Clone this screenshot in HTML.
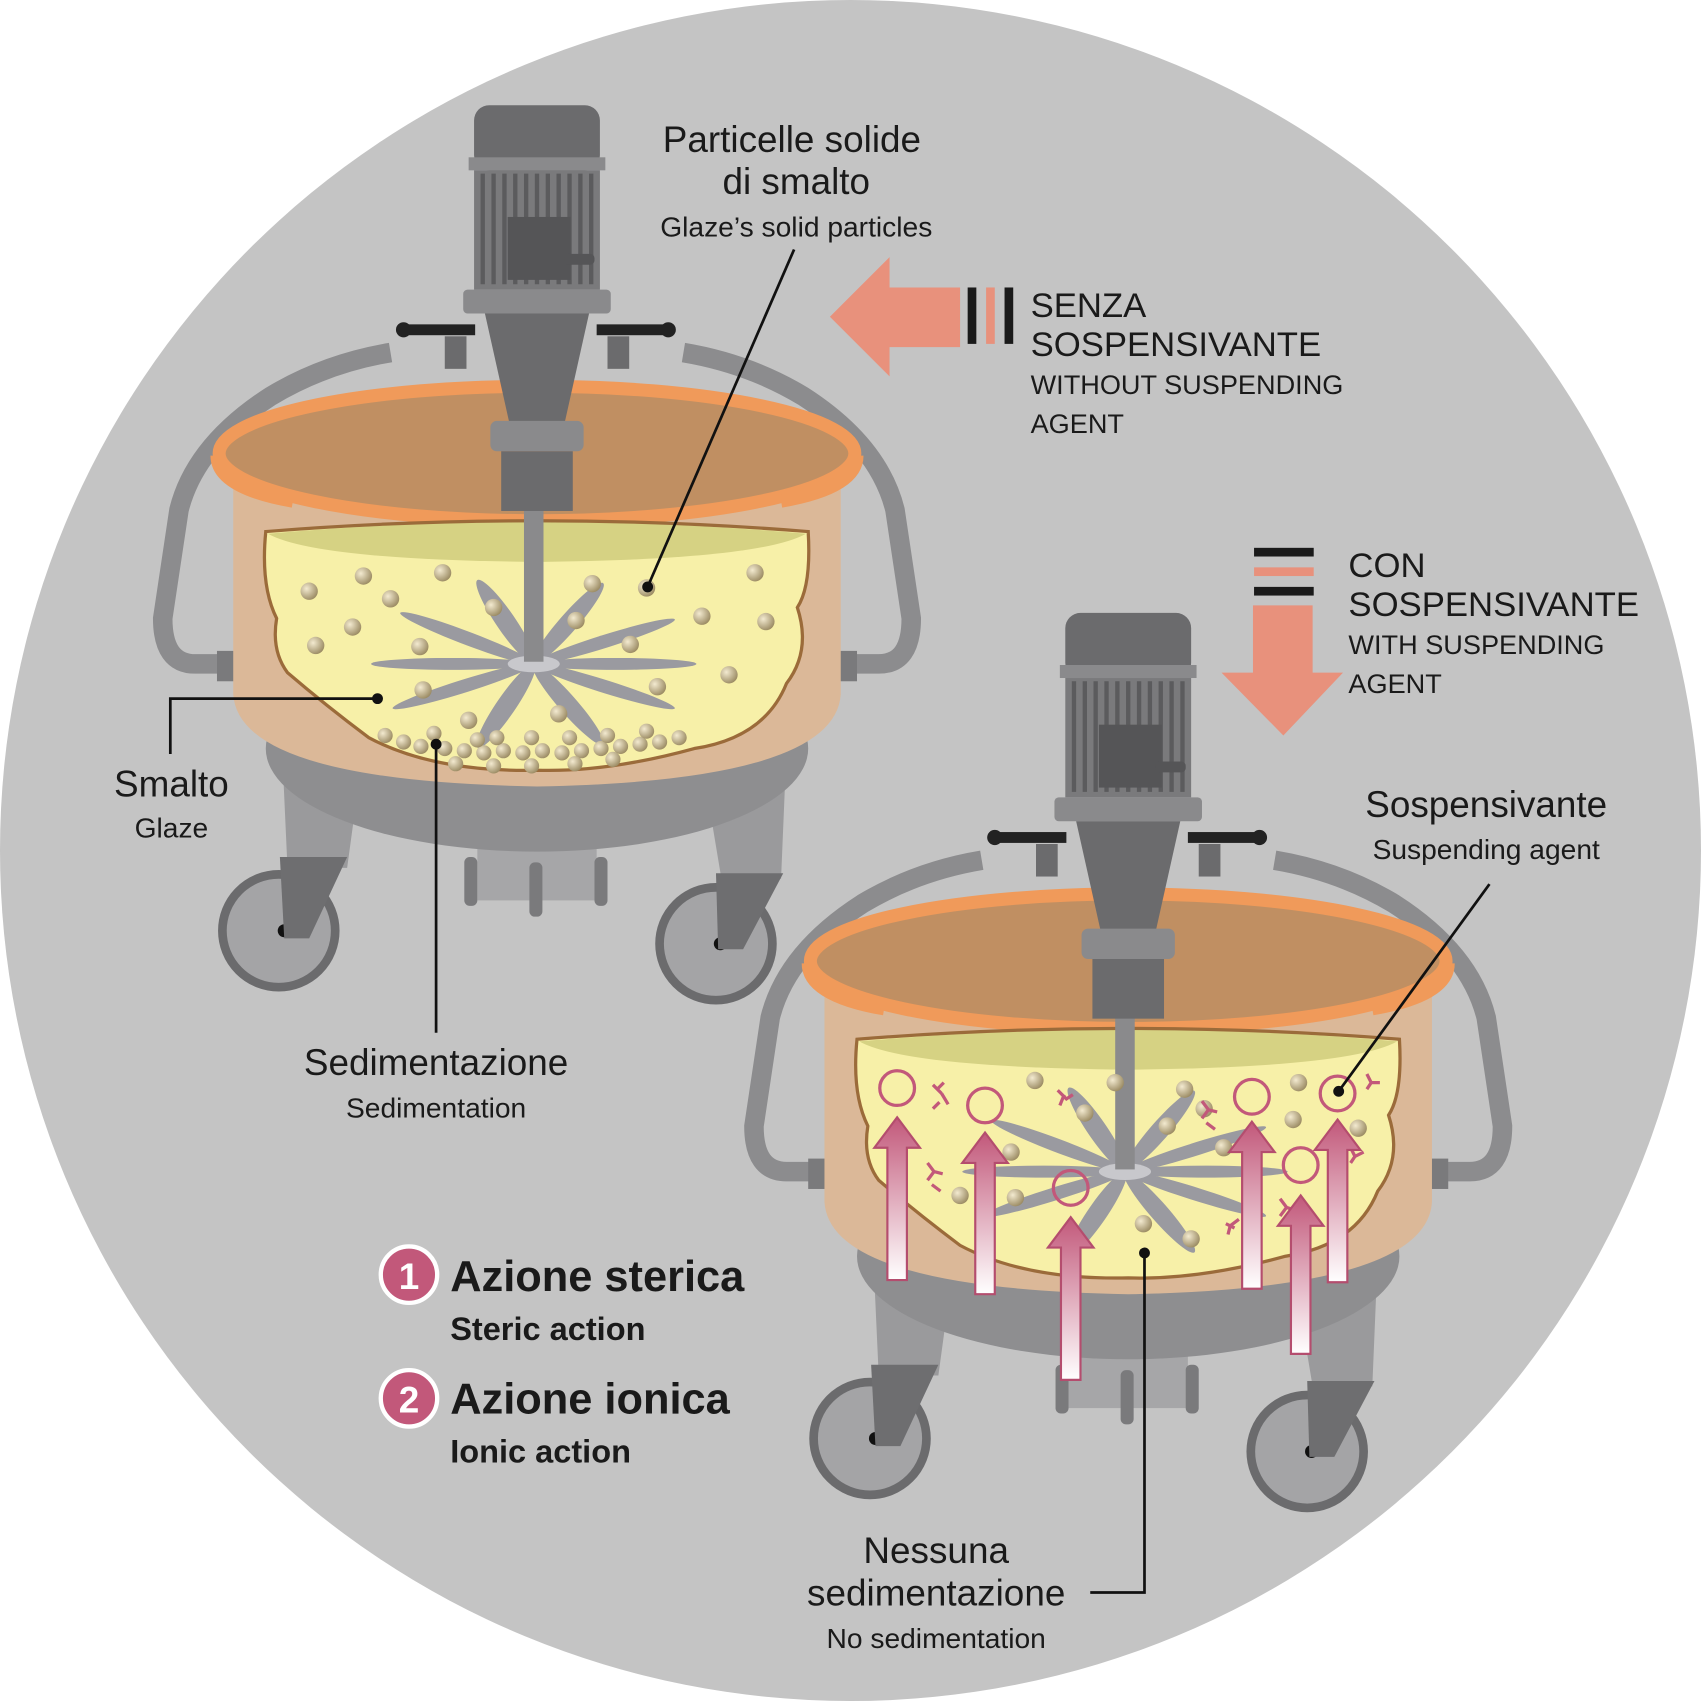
<!DOCTYPE html>
<html><head><meta charset="utf-8"><style>
html,body{margin:0;padding:0;background:#fff}
svg{display:block}
text{font-family:"Liberation Sans Narrow","Liberation Sans",sans-serif;fill:#1a1a1a}
</style></head><body>
<svg width="1701" height="1701" viewBox="0 0 1568 1568" xmlns="http://www.w3.org/2000/svg">
<defs>
<linearGradient id="pg" x1="0" y1="0" x2="0" y2="1"><stop offset="0" stop-color="#c2587a"/><stop offset="1" stop-color="#fff"/></linearGradient>
<radialGradient id="bead" cx="0.35" cy="0.35" r="0.7"><stop offset="0" stop-color="#f3ead0"/><stop offset="1" stop-color="#9a8a62"/></radialGradient>
<clipPath id="gclip"><path d="M245,490 Q495,470 745,490 Q748,540 735,560 Q748,600 725,630 Q705,680 640,690 Q560,712 495,710 Q400,712 340,680 Q300,650 265,620 Q250,600 255,570 Q240,540 245,490 Z"/></clipPath>
<g id="tank">
  <path d="M215,612 H180 Q150,612 150,570 L165,470 Q180,410 250,365 Q300,335 360,325" fill="none" stroke="#8c8c8e" stroke-width="18"/>
  <path d="M775,612 H810 Q840,612 840,570 L825,470 Q810,410 740,365 Q690,335 630,325" fill="none" stroke="#8c8c8e" stroke-width="18"/>
  <rect x="200" y="600" width="18" height="28" fill="#7a7a7c"/>
  <rect x="772" y="600" width="18" height="28" fill="#7a7a7c"/>
  <polygon points="260,690 335,690 320,800 265,800" fill="#9a9a9c"/>
  <polygon points="645,690 725,690 720,810 665,810" fill="#9a9a9c"/>
  <circle cx="257" cy="858" r="52" fill="#a4a4a6" stroke="#6b6b6d" stroke-width="8"/>
  <circle cx="262" cy="858" r="6" fill="#111"/>
  <circle cx="660" cy="870" r="52" fill="#a4a4a6" stroke="#6b6b6d" stroke-width="8"/>
  <circle cx="664" cy="870" r="6" fill="#111"/>
  <polygon points="258,790 320,790 285,865 262,865" fill="#6e6e70"/>
  <polygon points="660,805 722,805 685,875 662,875" fill="#6e6e70"/>
  <rect x="440" y="770" width="110" height="60" fill="#a6a6a8"/>
  <rect x="428" y="790" width="12" height="45" rx="5" fill="#7a7a7c"/>
  <rect x="488" y="795" width="12" height="50" rx="5" fill="#7a7a7c"/>
  <rect x="548" y="790" width="12" height="45" rx="5" fill="#7a7a7c"/>
  <ellipse cx="495" cy="690" rx="250" ry="95" fill="#8e8e90"/>
  <path d="M215,420 H775 V640 Q770,720 495,725 Q220,720 215,640 Z" fill="#dbb898"/>
  <ellipse cx="495" cy="418" rx="293" ry="62" fill="#c08f62" stroke="#f09a5a" stroke-width="12"/>
  <path d="M200,420 Q200,450 270,462" fill="none" stroke="#f09a5a" stroke-width="12"/>
  <path d="M790,420 Q790,450 720,462" fill="none" stroke="#f09a5a" stroke-width="12"/>
  <rect x="368" y="299" width="70" height="10" fill="#222"/>
  <circle cx="372" cy="304" r="7" fill="#222"/>
  <rect x="550" y="299" width="70" height="10" fill="#222"/>
  <circle cx="616" cy="304" r="7" fill="#222"/>
  <rect x="410" y="310" width="20" height="30" fill="#6b6b6d"/>
  <rect x="560" y="310" width="20" height="30" fill="#6b6b6d"/>
</g>
<g id="motor">
  <rect x="437" y="97" width="116" height="60" rx="14" fill="#6b6b6d"/>
  <rect x="432" y="145" width="126" height="12" fill="#8a8a8c"/>
  <rect x="437" y="157" width="116" height="110" fill="#7a7a7c"/>
  <g stroke="#5b5b5d" stroke-width="4">
   <line x1="445" y1="160" x2="445" y2="262"/><line x1="455" y1="160" x2="455" y2="262"/><line x1="465" y1="160" x2="465" y2="262"/><line x1="475" y1="160" x2="475" y2="262"/><line x1="485" y1="160" x2="485" y2="262"/><line x1="495" y1="160" x2="495" y2="262"/><line x1="505" y1="160" x2="505" y2="262"/><line x1="515" y1="160" x2="515" y2="262"/><line x1="525" y1="160" x2="525" y2="262"/><line x1="535" y1="160" x2="535" y2="262"/><line x1="545" y1="160" x2="545" y2="262"/>
  </g>
  <rect x="468" y="200" width="58" height="58" fill="#555557"/>
  <rect x="520" y="234" width="28" height="10" rx="4" fill="#555557"/>
  <rect x="427" y="267" width="136" height="22" rx="4" fill="#8a8a8c"/>
  <polygon points="447,289 543,289 520,392 470,392" fill="#6b6b6d"/>
  <rect x="452" y="388" width="86" height="28" rx="6" fill="#8a8a8c"/>
  <rect x="462" y="416" width="66" height="55" fill="#6b6b6d"/>
</g>
<g id="glaze">
  <path d="M245,490 Q495,470 745,490 Q748,540 735,560 Q748,600 725,630 Q705,680 640,690 Q560,712 495,710 Q400,712 340,680 Q300,650 265,620 Q250,600 255,570 Q240,540 245,490 Z" fill="#f7f0a8"/>
  <path d="M247,492 Q495,470 743,492 Q700,516 495,518 Q290,516 247,492 Z" fill="#d6d283"/>
  <g clip-path="url(#gclip)">
  <g transform="translate(492,612) scale(1,0.55)" fill="#9a9aa0">
    <ellipse cx="75" cy="0" rx="75" ry="10"/>
    <ellipse cx="75" cy="0" rx="75" ry="10" transform="rotate(30)"/>
    <ellipse cx="75" cy="0" rx="75" ry="10" transform="rotate(65)"/>
    <ellipse cx="75" cy="0" rx="75" ry="10" transform="rotate(110)"/>
    <ellipse cx="75" cy="0" rx="75" ry="10" transform="rotate(150)"/>
    <ellipse cx="75" cy="0" rx="75" ry="10" transform="rotate(180)"/>
    <ellipse cx="75" cy="0" rx="75" ry="10" transform="rotate(215)"/>
    <ellipse cx="75" cy="0" rx="75" ry="10" transform="rotate(250)"/>
    <ellipse cx="75" cy="0" rx="75" ry="10" transform="rotate(295)"/>
    <ellipse cx="75" cy="0" rx="75" ry="10" transform="rotate(330)"/>
    <ellipse cx="0" cy="0" rx="24" ry="14" fill="#c8c8cc"/>
  </g>
  </g>
  <path d="M245,490 Q495,470 745,490 Q748,540 735,560 Q748,600 725,630 Q705,680 640,690 Q560,712 495,710 Q400,712 340,680 Q300,650 265,620 Q250,600 255,570 Q240,540 245,490 Z" fill="none" stroke="#9b6b3a" stroke-width="3"/>
  <rect x="483" y="460" width="18" height="150" fill="#8a8a8c"/>
</g>
</defs>

<rect width="1568" height="1568" fill="#fff"/>
<circle cx="784" cy="784" r="784" fill="#c4c4c4"/>

<use href="#tank"/>
<use href="#glaze"/>
<use href="#motor"/>
<g fill="url(#bead)">
  <circle cx="335" cy="531" r="8"/><circle cx="408" cy="528" r="8"/><circle cx="285" cy="545" r="8"/><circle cx="360" cy="552" r="8"/><circle cx="455" cy="560" r="8"/><circle cx="546" cy="538" r="8"/><circle cx="596" cy="542" r="8"/><circle cx="696" cy="528" r="8"/><circle cx="325" cy="578" r="8"/><circle cx="291" cy="595" r="8"/><circle cx="387" cy="596" r="8"/><circle cx="531" cy="572" r="8"/><circle cx="581" cy="594" r="8"/><circle cx="647" cy="568" r="8"/><circle cx="706" cy="573" r="8"/><circle cx="606" cy="633" r="8"/><circle cx="672" cy="622" r="8"/><circle cx="390" cy="636" r="8"/><circle cx="432" cy="664" r="8"/><circle cx="515" cy="658" r="8"/>
  <circle cx="355" cy="678" r="7"/><circle cx="372" cy="684" r="7"/><circle cx="388" cy="688" r="7"/><circle cx="410" cy="690" r="7"/><circle cx="428" cy="692" r="7"/><circle cx="446" cy="694" r="7"/><circle cx="464" cy="692" r="7"/><circle cx="482" cy="694" r="7"/><circle cx="500" cy="692" r="7"/><circle cx="518" cy="694" r="7"/><circle cx="536" cy="692" r="7"/><circle cx="554" cy="690" r="7"/><circle cx="572" cy="688" r="7"/><circle cx="590" cy="686" r="7"/><circle cx="608" cy="684" r="7"/><circle cx="626" cy="680" r="7"/><circle cx="440" cy="682" r="7"/><circle cx="458" cy="680" r="7"/><circle cx="490" cy="680" r="7"/><circle cx="525" cy="680" r="7"/><circle cx="560" cy="678" r="7"/><circle cx="596" cy="674" r="7"/><circle cx="420" cy="704" r="7"/><circle cx="455" cy="706" r="7"/><circle cx="490" cy="706" r="7"/><circle cx="530" cy="704" r="7"/><circle cx="565" cy="700" r="7"/><circle cx="400" cy="676" r="7"/>
</g>

<g transform="translate(545,468)">
  <use href="#tank"/>
  <use href="#glaze"/>
  <use href="#motor"/>
</g>
<g fill="url(#bead)">
  <circle cx="954" cy="996" r="8"/><circle cx="1028" cy="998" r="8"/><circle cx="1092" cy="1004" r="8"/><circle cx="1197" cy="998" r="8"/><circle cx="1000" cy="1026" r="8"/><circle cx="1076" cy="1038" r="8"/><circle cx="1192" cy="1032" r="8"/><circle cx="1252" cy="1040" r="8"/><circle cx="932" cy="1062" r="8"/><circle cx="1128" cy="1058" r="8"/><circle cx="885" cy="1102" r="8"/><circle cx="936" cy="1104" r="8"/><circle cx="1054" cy="1128" r="8"/><circle cx="1098" cy="1142" r="8"/><circle cx="1110" cy="1022" r="8"/>
</g>
<g fill="none" stroke="#c2587a" stroke-width="3">
  <circle cx="827" cy="1003" r="16"/><circle cx="908" cy="1019" r="16"/><circle cx="1154" cy="1011" r="16"/><circle cx="1233" cy="1008" r="16"/><circle cx="987" cy="1095" r="16"/><circle cx="1199" cy="1074" r="16"/>
  <path d="M860,1000 l8,8 m-4,-4 l6,-6 m-2,10 l6,10 m-8,-2 l-6,6"/>
  <path d="M975,1005 l8,8 l6,-4 m-8,0 l-4,10"/>
  <path d="M1108,1015 l6,8 l-6,8 m6,-8 l8,2 m-10,10 l8,6"/>
  <path d="M855,1072 l6,8 l-6,8 m6,-8 l8,2 m-10,10 l8,6"/>
  <path d="M1130,1128 l8,4 m-4,-2 l-2,8 m2,-8 l8,-6"/>
  <path d="M1180,1105 l6,8 l-6,8 m6,-8 l6,2"/>
  <path d="M1245,1058 l4,8 l-4,6 m4,-6 l8,-4"/>
  <path d="M1260,990 l4,8 l-4,6 m4,-6 l8,0"/>
</g>
<g fill="url(#pg)" stroke="#b44d6e" stroke-width="2">
  <path d="M818,1180 V1058 H806 L827,1030 L848,1058 H836 V1180 Z"/>
  <path d="M899,1193 V1072 H887 L908,1044 L929,1072 H917 V1193 Z"/>
  <path d="M978,1272 V1150 H966 L987,1122 L1008,1150 H996 V1272 Z"/>
  <path d="M1145,1188 V1062 H1133 L1154,1034 L1175,1062 H1163 V1188 Z"/>
  <path d="M1190,1248 V1130 H1178 L1199,1102 L1220,1130 H1208 V1248 Z"/>
  <path d="M1224,1182 V1060 H1212 L1233,1032 L1254,1060 H1242 V1182 Z"/>
</g>

<polygon points="765,292 820,237 820,265 885,265 885,320 820,320 820,347" fill="#e8917c"/>
<rect x="892" y="265" width="8" height="52" fill="#1a1a1a"/>
<rect x="909" y="265" width="8" height="52" fill="#e8917c"/>
<rect x="926" y="265" width="8" height="52" fill="#1a1a1a"/>
<rect x="1156" y="505" width="55" height="8" fill="#1a1a1a"/>
<rect x="1156" y="523" width="55" height="8" fill="#e8917c"/>
<rect x="1156" y="541" width="55" height="8" fill="#1a1a1a"/>
<polygon points="1155,558 1210,558 1210,620 1238,620 1183,678 1126,620 1155,620" fill="#e8917c"/>

<g fill="none" stroke="#111" stroke-width="2.5">
  <polyline points="732,230 597,541"/>
  <polyline points="348,644 157,644 157,695"/>
  <polyline points="402,686 402,952"/>
  <polyline points="1373,815 1234,1006"/>
  <polyline points="1055,1155 1055,1468 1005,1468"/>
</g>
<g fill="#111"><circle cx="597" cy="541" r="5"/><circle cx="348" cy="644" r="5"/><circle cx="402" cy="686" r="5"/><circle cx="1234" cy="1006" r="5"/><circle cx="1055" cy="1155" r="5"/></g>

<text x="730" y="140" font-size="34" text-anchor="middle">Particelle solide</text>
<text x="734" y="179" font-size="34" text-anchor="middle">di smalto</text>
<text x="734" y="218" font-size="26" text-anchor="middle">Glaze’s solid particles</text>
<text x="950" y="292" font-size="32">SENZA</text>
<text x="950" y="328" font-size="32">SOSPENSIVANTE</text>
<text x="950" y="363" font-size="25">WITHOUT SUSPENDING</text>
<text x="950" y="399" font-size="25">AGENT</text>
<text x="1243" y="532" font-size="32">CON</text>
<text x="1243" y="568" font-size="32">SOSPENSIVANTE</text>
<text x="1243" y="603" font-size="25">WITH SUSPENDING</text>
<text x="1243" y="639" font-size="25">AGENT</text>
<text x="1370" y="753" font-size="34" text-anchor="middle">Sospensivante</text>
<text x="1370" y="792" font-size="26" text-anchor="middle">Suspending agent</text>
<text x="158" y="734" font-size="34" text-anchor="middle">Smalto</text>
<text x="158" y="772" font-size="26" text-anchor="middle">Glaze</text>
<text x="402" y="991" font-size="34" text-anchor="middle">Sedimentazione</text>
<text x="402" y="1030" font-size="26" text-anchor="middle">Sedimentation</text>
<text x="863" y="1441" font-size="34" text-anchor="middle">Nessuna</text>
<text x="863" y="1480" font-size="34" text-anchor="middle">sedimentazione</text>
<text x="863" y="1519" font-size="26" text-anchor="middle">No sedimentation</text>
<circle cx="377" cy="1175" r="26" fill="#c2587a" stroke="#fff" stroke-width="4"/>
<text x="377" y="1188" font-size="34" font-weight="bold" text-anchor="middle" style="fill:#fff">1</text>
<text x="415" y="1190" font-size="40" font-weight="bold">Azione sterica</text>
<text x="415" y="1235" font-size="30" font-weight="bold">Steric action</text>
<circle cx="377" cy="1289" r="26" fill="#c2587a" stroke="#fff" stroke-width="4"/>
<text x="377" y="1302" font-size="34" font-weight="bold" text-anchor="middle" style="fill:#fff">2</text>
<text x="415" y="1303" font-size="40" font-weight="bold">Azione ionica</text>
<text x="415" y="1348" font-size="30" font-weight="bold">Ionic action</text>
</svg>
</body></html>
